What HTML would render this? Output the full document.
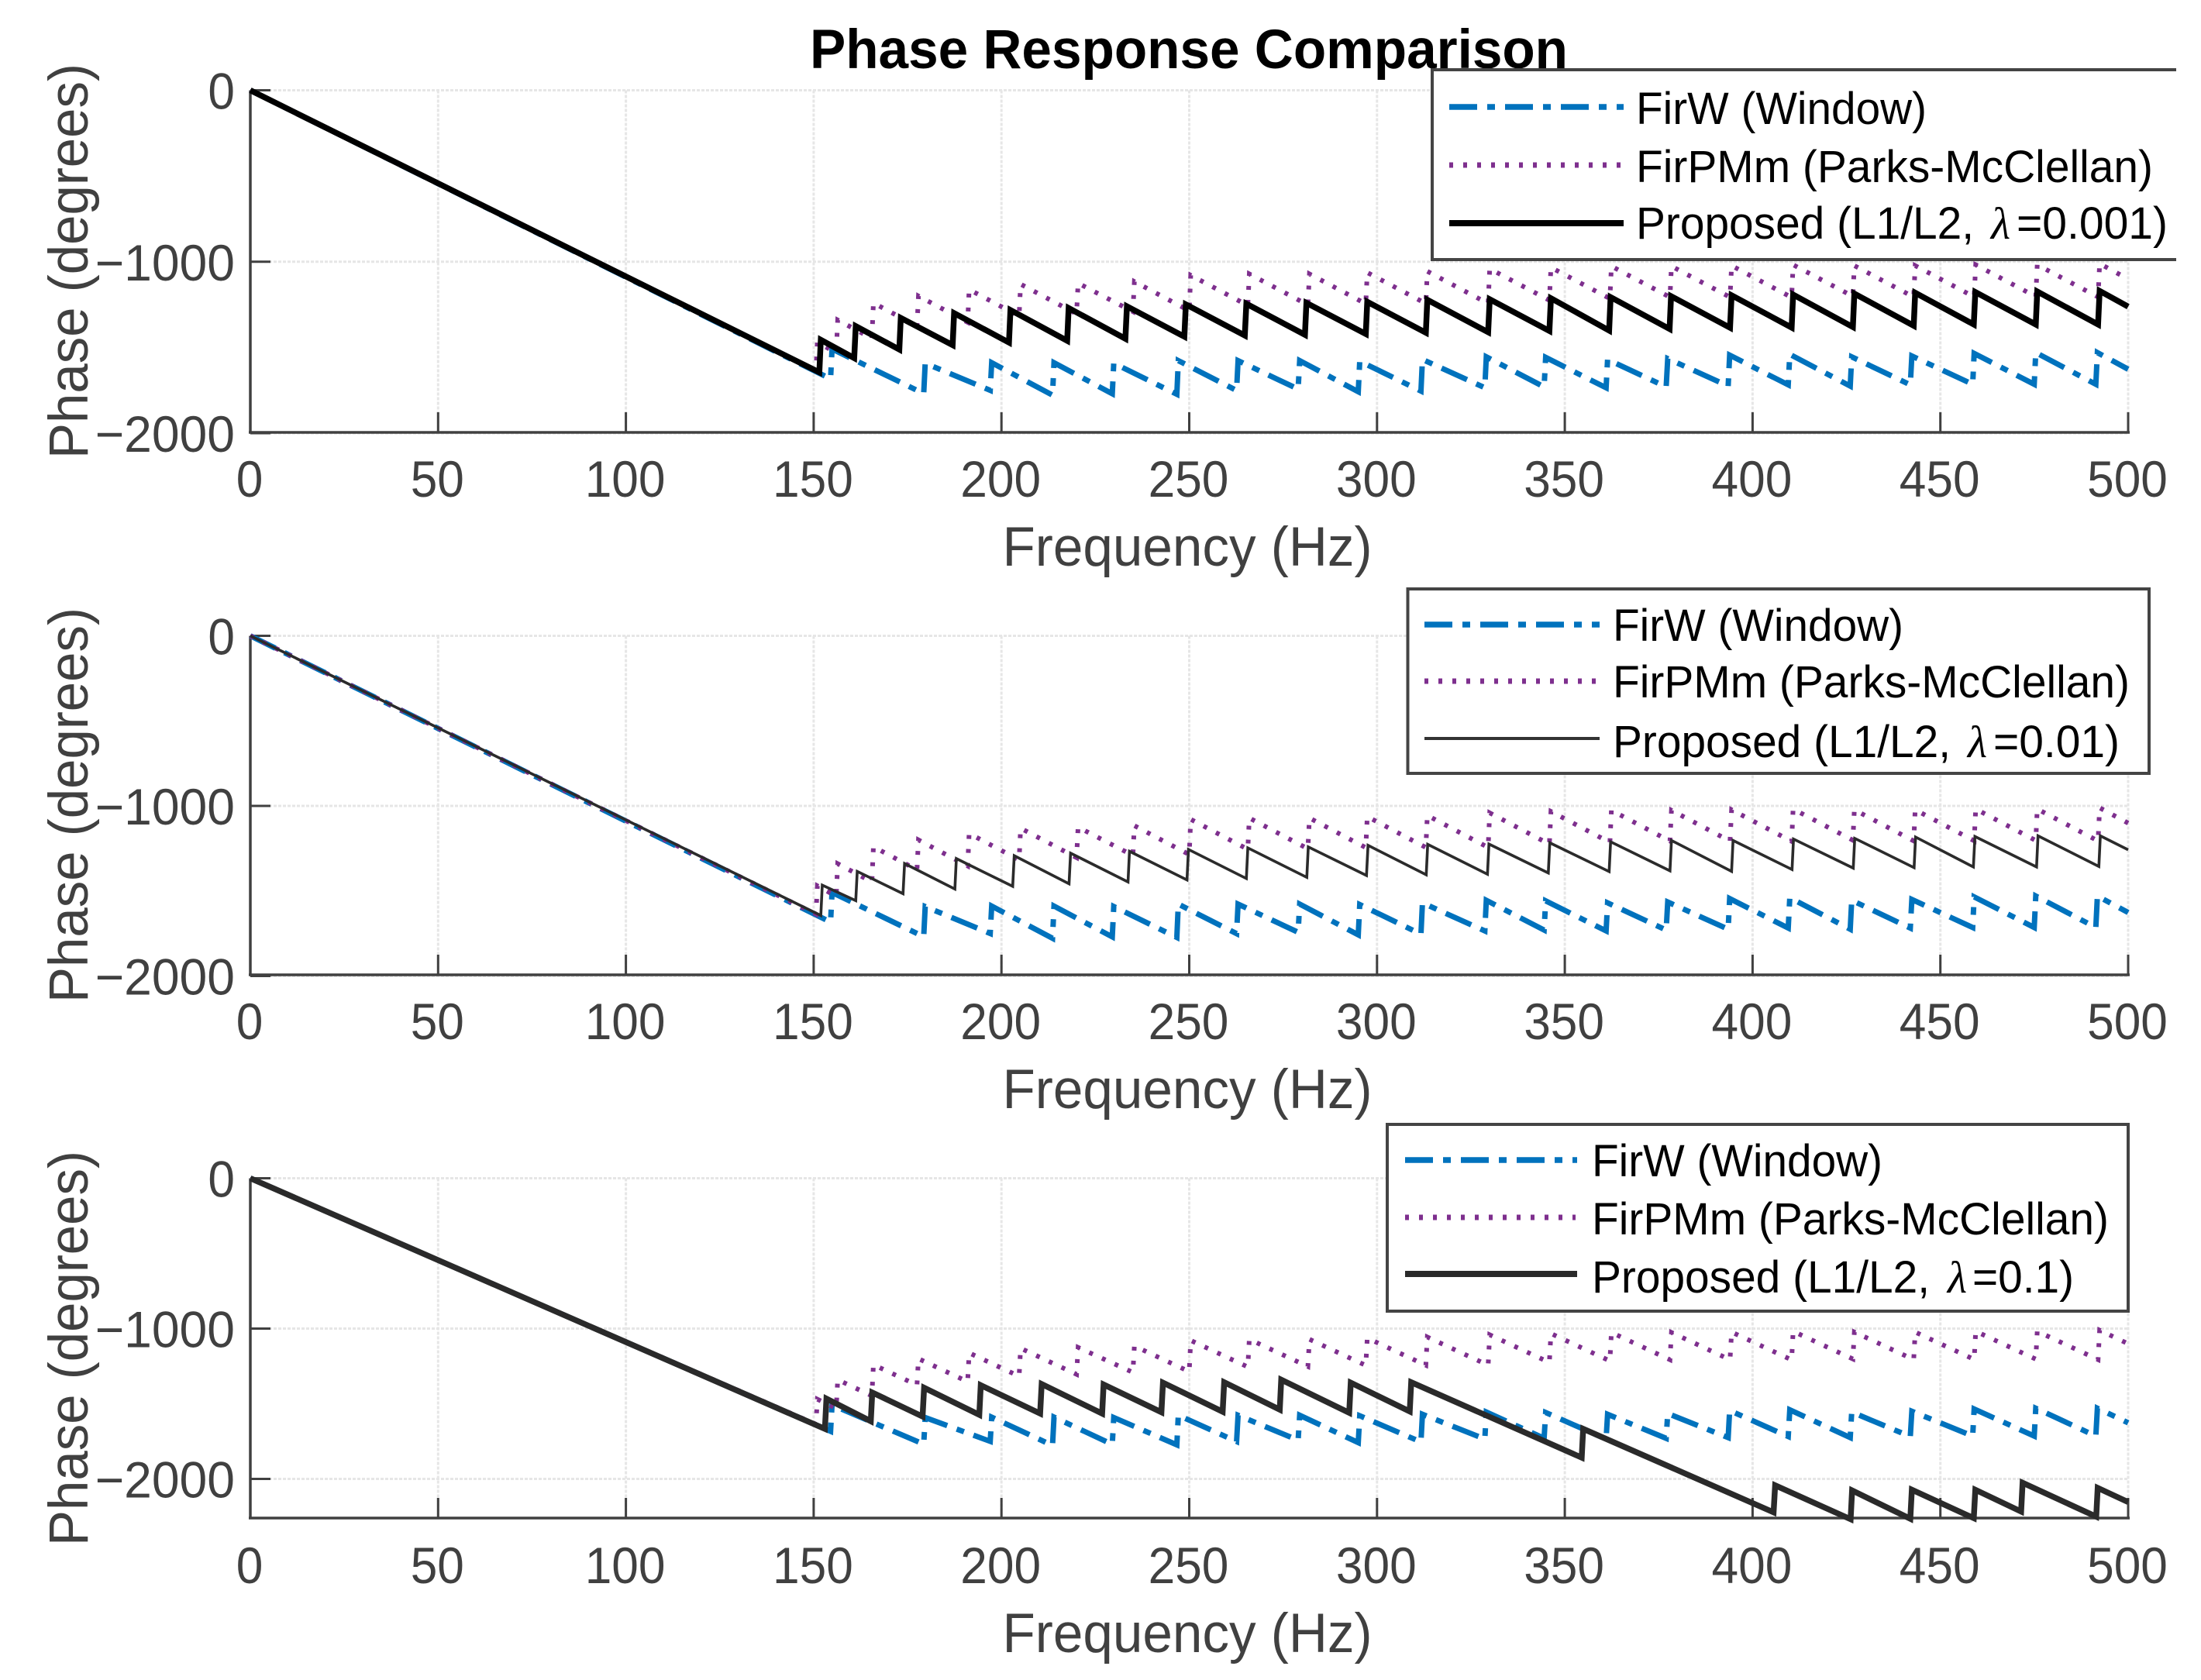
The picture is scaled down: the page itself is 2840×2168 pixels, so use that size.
<!DOCTYPE html>
<html lang="en">
<head>
<meta charset="utf-8">
<title>Phase Response Comparison</title>
<style>
html,body{margin:0;padding:0;background:#fff;}
svg{display:block;font-family:"Liberation Sans",Arial,sans-serif;}
.tick{font-size:66px;fill:#404040;}
.axl{font-size:71px;fill:#404040;}
.leg{font-size:58px;fill:#000;}
.lam{font-family:"Liberation Serif",serif;font-style:italic;font-size:58px;fill:#000;}
.box{fill:#fff;stroke:#444;stroke-width:4;}
</style>
</head>
<body>
<svg id="chart" xmlns="http://www.w3.org/2000/svg" width="2840" height="2168" viewBox="0 0 2840 2168">
<rect width="2840" height="2168" fill="#fff"/>
<g id="p0"></g>
<g id="p1"></g>
<g id="p2"></g>

<text x="1534" y="88" text-anchor="middle" font-weight="bold" font-size="71" fill="#000" textLength="978" lengthAdjust="spacingAndGlyphs">Phase Response Comparison</text>

<g>
  <path d="M2808 90H1848V335H2808" class="box"/>
  <line x1="1870" x2="2095" y1="138" y2="138" stroke="#0072BD" stroke-width="7.5" stroke-dasharray="36 13 10 13"/>
  <line x1="1870" x2="2092" y1="213" y2="213" stroke="#7E2F8E" stroke-width="7" stroke-dasharray="5 13"/>
  <line x1="1870" x2="2095" y1="288" y2="288" stroke="#000" stroke-width="8"/>
  <text class="leg" x="2111" y="160" textLength="375" lengthAdjust="spacingAndGlyphs">FirW (Window)</text>
  <text class="leg" x="2111" y="235" textLength="667" lengthAdjust="spacingAndGlyphs">FirPMm (Parks-McClellan)</text>
  <text class="leg" x="2111" y="308" textLength="436" lengthAdjust="spacingAndGlyphs">Proposed (L1/L2,</text>
  <text class="lam" x="2569" y="308">λ</text>
  <text class="leg" x="2602" y="308" textLength="195" lengthAdjust="spacingAndGlyphs">=0.001)</text>
</g>

<g>
  <rect x="1816.5" y="760" width="956.5" height="238" class="box"/>
  <line x1="1838" x2="2064" y1="806" y2="806" stroke="#0072BD" stroke-width="7.5" stroke-dasharray="36 13 10 13"/>
  <line x1="1838" x2="2060" y1="879" y2="879" stroke="#7E2F8E" stroke-width="7" stroke-dasharray="5 13"/>
  <line x1="1838" x2="2064" y1="953" y2="953" stroke="#333" stroke-width="4"/>
  <text class="leg" x="2081" y="827" textLength="375" lengthAdjust="spacingAndGlyphs">FirW (Window)</text>
  <text class="leg" x="2081" y="900" textLength="667" lengthAdjust="spacingAndGlyphs">FirPMm (Parks-McClellan)</text>
  <text class="leg" x="2081" y="977" textLength="436" lengthAdjust="spacingAndGlyphs">Proposed (L1/L2,</text>
  <text class="lam" x="2539" y="977">λ</text>
  <text class="leg" x="2572" y="977" textLength="163" lengthAdjust="spacingAndGlyphs">=0.01)</text>
</g>

<g>
  <rect x="1790" y="1451" width="956" height="241" class="box"/>
  <line x1="1813" x2="2035" y1="1497" y2="1497" stroke="#0072BD" stroke-width="7.5" stroke-dasharray="36 13 10 13"/>
  <line x1="1813" x2="2033" y1="1571" y2="1571" stroke="#7E2F8E" stroke-width="7" stroke-dasharray="5 13"/>
  <line x1="1813" x2="2035" y1="1644" y2="1644" stroke="#2a2a2a" stroke-width="8"/>
  <text class="leg" x="2054" y="1518" textLength="375" lengthAdjust="spacingAndGlyphs">FirW (Window)</text>
  <text class="leg" x="2054" y="1593" textLength="667" lengthAdjust="spacingAndGlyphs">FirPMm (Parks-McClellan)</text>
  <text class="leg" x="2054" y="1668" textLength="436" lengthAdjust="spacingAndGlyphs">Proposed (L1/L2,</text>
  <text class="lam" x="2513" y="1668">λ</text>
  <text class="leg" x="2545" y="1668" textLength="131" lengthAdjust="spacingAndGlyphs">=0.1)</text>
</g>
</svg>

<script>
// Axis tick values
const xTicks = [0, 50, 100, 150, 200, 250, 300, 350, 400, 450, 500];
const yTicks = [0, -1000, -2000];

// FirW (Window) sawtooth: wrap frequency, phase before and after each wrap
const firwHz = [154.5, 179.3, 197, 213.6, 229.5, 246.7, 262.6, 279, 295, 311.7, 328.7, 344.5, 361, 377, 393.5, 409.5, 426, 442, 458.6, 475, 491.4];
const firwLow = [-1683, -1769, -1750, -1778, -1770, -1773, -1751, -1743, -1758, -1754, -1735, -1730, -1735, -1730, -1725, -1718, -1725, -1718, -1715, -1715, -1715];
const firwHigh = [-1509, -1592, -1589, -1589, -1592, -1577, -1577, -1577, -1580, -1570, -1555, -1558, -1570, -1565, -1545, -1540, -1555, -1550, -1535, -1530, -1530];
const firwEnd = -1627;

// FirPMm (Parks-McClellan) sawtooth
const firpmHz = [150.6, 156, 165.5, 177.5, 191, 204.7, 220, 235, 250, 265.6, 281.6, 297, 313, 329.6, 345.9, 362, 378, 394, 410.4, 426.7, 442.9, 459, 475.4, 492];
const firpmLow = [-1636, -1531, -1447, -1376, -1353, -1317, -1304, -1291, -1286, -1255, -1252, -1245, -1244, -1244, -1225, -1215, -1207, -1207, -1208, -1202, -1206, -1205, -1203, -1206];
const firpmHigh = [-1470, -1340, -1240, -1200, -1162, -1131, -1125, -1116, -1079, -1071, -1071, -1063, -1056, -1041, -1033, -1026, -1026, -1023, -1018, -1023, -1023, -1018, -1018, -1011];
const firpmEnd = -1101;

// Proposed, lambda = 0.001
const prop001Hz = [151.5, 160.8, 172.8, 187, 202, 217.5, 233, 248.7, 264.8, 280.8, 297, 313, 329.6, 345.9, 361.8, 377.9, 394, 410.4, 426.7, 442.9, 458.9, 475.4, 492];
const prop001Low = [-1645, -1562, -1512, -1486, -1471, -1461, -1449, -1437, -1430, -1426, -1421, -1414, -1411, -1404, -1401, -1392, -1385, -1384, -1381, -1373, -1366, -1366, -1366];
const prop001High = [-1456, -1376, -1328, -1300, -1282, -1270, -1260, -1249, -1245, -1240, -1234, -1222, -1219, -1213, -1207, -1201, -1196, -1192, -1186, -1181, -1177, -1174, -1170];
const prop001End = -1262;

// Proposed, lambda = 0.01
const prop01Hz = [151.9, 161.2, 173.8, 187.6, 203, 218, 233.7, 249.4, 265.2, 281.3, 297.2, 313.1, 329.4, 345.6, 361.8, 378, 394.4, 410.5, 426.8, 443, 458.8, 475.6, 492.2];
const prop01Low = [-1644, -1557, -1516, -1489, -1473, -1458, -1447, -1435, -1427, -1420, -1409, -1405, -1402, -1394, -1386, -1382, -1385, -1374, -1366, -1363, -1359, -1359, -1356];
const prop01High = [-1466, -1385, -1339, -1310, -1293, -1278, -1267, -1256, -1247, -1241, -1232, -1226, -1224, -1217, -1211, -1203, -1203, -1195, -1191, -1183, -1180, -1176, -1176];
const prop01End = -1258;

// Proposed, lambda = 0.1
const prop1Hz = [153, 165.2, 179, 194.1, 210.3, 226.8, 242.6, 258.9, 274.1, 292.6, 308.7, 354.5, 405.6, 426.1, 442, 458.9, 471.5, 491.5];
const prop1Low = [-1667, -1616, -1585, -1573, -1565, -1565, -1556, -1553, -1539, -1560, -1551, -1858, -2222, -2268, -2265, -2261, -2217, -2251];
const prop1High = [-1466, -1425, -1394, -1377, -1369, -1372, -1360, -1357, -1340, -1360, -1357, -1667, -2043, -2077, -2072, -2072, -2026, -2060];
const prop1End = -2154;

const SVGNS = 'http://www.w3.org/2000/svg';
const xLeft = 323, xRight = 2746, xMaxHz = 500;
function xScale(hz) { return xLeft + (xRight - xLeft) * hz / xMaxHz; }
function makeYScale(y0, pxPerDeg) { return function (deg) { return y0 - deg * pxPerDeg; }; }

function sawtooth(hz, low, high, end) {
  const pts = [[0, 0]];
  hz.forEach(function (f, i) {
    pts.push([f, low[i]]);
    pts.push([f + 0.4, high[i]]);
  });
  pts.push([xMaxHz, end]);
  return pts;
}

function node(parent, tag, attrs, text) {
  const el = document.createElementNS(SVGNS, tag);
  Object.keys(attrs).forEach(function (k) { el.setAttribute(k, attrs[k]); });
  if (text !== undefined) el.textContent = text;
  parent.appendChild(el);
  return el;
}

function tickWidth(label) {
  return label.replace('\u2212', '').length * 34.6 + (label.indexOf('\u2212') === 0 ? 42 : 0);
}

const panels = [
  { g: 'p0', y0: 116.5, pxPerDeg: 0.22125, bottom: 558, xTickBase: 641, xLabelBase: 730, yLabelMid: 337,
    hz: prop001Hz, low: prop001Low, high: prop001High, end: prop001End, color: '#000', width: 7.5 },
  { g: 'p1', y0: 820.5, pxPerDeg: 0.2195, bottom: 1258, xTickBase: 1341, xLabelBase: 1430, yLabelMid: 1039,
    hz: prop01Hz, low: prop01Low, high: prop01High, end: prop01End, color: '#2b2b2b', width: 3.6 },
  { g: 'p2', y0: 1520.5, pxPerDeg: 0.194, bottom: 1959, xTickBase: 2043, xLabelBase: 2132, yLabelMid: 1740,
    hz: prop1Hz, low: prop1Low, high: prop1High, end: prop1End, color: '#2a2a2a', width: 7.5 }
];

panels.forEach(function (p) {
  const g = document.getElementById(p.g);
  const yScale = makeYScale(p.y0, p.pxPerDeg);

  xTicks.forEach(function (t) {
    const gl = node(g, 'line', { x1: xScale(t), x2: xScale(t), y1: p.y0, y2: p.bottom, stroke: '#e6e6e6', 'stroke-width': 3, 'stroke-dasharray': '4 2' });
    
    
  });
  yTicks.forEach(function (t) {
    const gl = node(g, 'line', { x1: xLeft, x2: xRight, y1: yScale(t), y2: yScale(t), stroke: '#e6e6e6', 'stroke-width': 3, 'stroke-dasharray': '4 2' });
    
    
  });

  const axisX = node(g, 'line', { x1: xLeft - 2, x2: xRight + 2, y1: p.bottom, y2: p.bottom, stroke: '#404040', 'stroke-width': 3.5 });
  
  
  const axisY = node(g, 'line', { x1: xLeft, x2: xLeft, y1: p.y0, y2: p.bottom, stroke: '#404040', 'stroke-width': 3.5 });
  
  

  xTicks.forEach(function (t) {
    const label = String(t);
    const tk = node(g, 'line', { x1: xScale(t), x2: xScale(t), y1: p.bottom, y2: p.bottom - 26, stroke: '#404040', 'stroke-width': 3 });
    
    
    const lb = node(g, 'text', { x: xScale(t) - 1, y: p.xTickBase, 'text-anchor': 'middle', class: 'tick', textLength: tickWidth(label), lengthAdjust: 'spacingAndGlyphs' }, label);
    
    
  });
  yTicks.forEach(function (t) {
    const label = String(t).replace('-', '\u2212');
    const tk = node(g, 'line', { x1: xLeft, x2: xLeft + 26, y1: yScale(t), y2: yScale(t), stroke: '#404040', 'stroke-width': 3 });
    
    
    const lb = node(g, 'text', { x: 303, y: yScale(t) + 24, 'text-anchor': 'end', class: 'tick', textLength: tickWidth(label), lengthAdjust: 'spacingAndGlyphs' }, label);
    
    
  });

  const xl = node(g, 'text', { x: 1532, y: p.xLabelBase, 'text-anchor': 'middle', class: 'axl', textLength: 477, lengthAdjust: 'spacingAndGlyphs' }, 'Frequency (Hz)');
  
  
  const yl = node(g, 'text', { transform: 'translate(113 ' + p.yLabelMid + ') rotate(-90)', 'text-anchor': 'middle', class: 'axl', textLength: 510, lengthAdjust: 'spacingAndGlyphs' }, 'Phase (degrees)');
  
  

  function toPath(pts) {
    return pts.map(function (q, i) {
      return (i ? 'L' : 'M') + xScale(q[0]).toFixed(1) + ' ' + yScale(q[1]).toFixed(1);
    }).join('');
  }

  const s1 = node(g, 'path', { d: toPath(sawtooth(firwHz, firwLow, firwHigh, firwEnd)), fill: 'none', stroke: '#0072BD', 'stroke-width': 7, 'stroke-dasharray': '36 13 10 13' });
  
  
  const s2 = node(g, 'path', { d: toPath(sawtooth(firpmHz, firpmLow, firpmHigh, firpmEnd)), fill: 'none', stroke: '#7E2F8E', 'stroke-width': 6, 'stroke-dasharray': '5 13' });
  
  
  const s3 = node(g, 'path', { d: toPath(sawtooth(p.hz, p.low, p.high, p.end)), fill: 'none', stroke: p.color, 'stroke-width': p.width, 'stroke-linejoin': 'miter', 'stroke-miterlimit': 3 });
  
  
});
</script>
</body>
</html>
